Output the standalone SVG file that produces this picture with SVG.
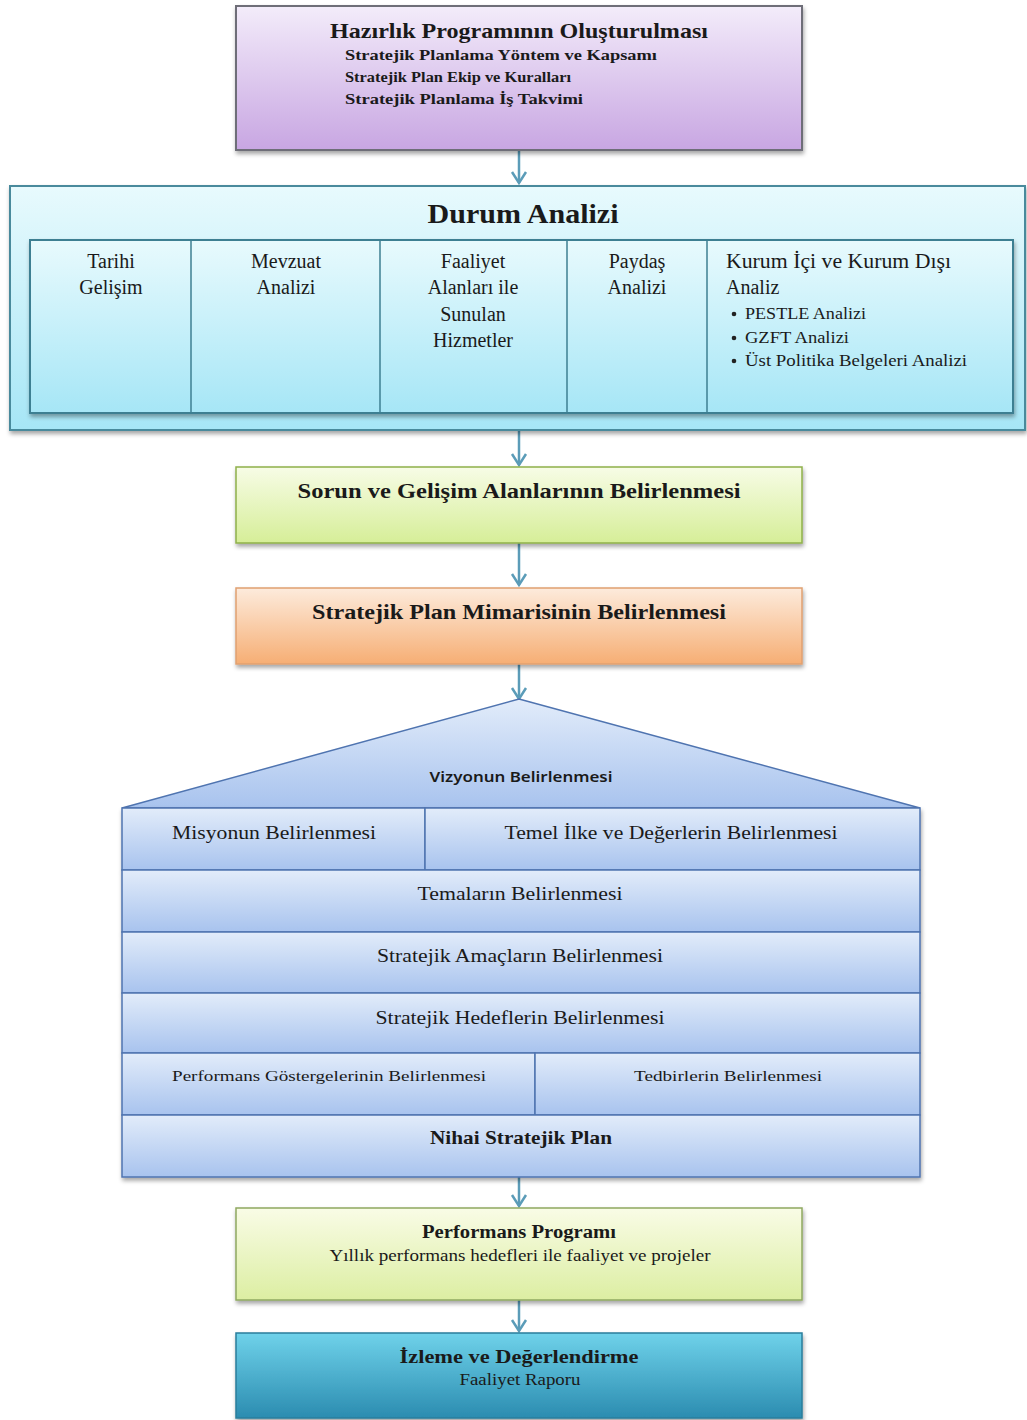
<svg xmlns="http://www.w3.org/2000/svg" width="1027" height="1420" viewBox="0 0 1027 1420">
<style>
.t{font-family:"Liberation Serif","DejaVu Serif",serif;fill:#1a1a1a;text-anchor:middle}
.st{text-anchor:start}
.b{font-weight:bold}
.s{font-family:"Noto Sans","Liberation Sans",sans-serif;fill:#1a1a1a;text-anchor:middle;font-weight:600}
.conn{stroke:#5B9CB8;stroke-width:2.5;fill:none}
.row{fill:url(#gBlue);stroke:#4F74B0;stroke-width:1.5}
.cell{fill:none;stroke:#3E7F92;stroke-width:1.5}
</style>
<defs>
<linearGradient id="gPurple" x1="0" y1="0" x2="0" y2="1"><stop offset="0" stop-color="#F3ECFA"/><stop offset="1" stop-color="#C8A6E2"/></linearGradient>
<linearGradient id="gCyan" x1="0" y1="0" x2="0" y2="1"><stop offset="0" stop-color="#E8FAFD"/><stop offset="1" stop-color="#A6E6F6"/></linearGradient>
<linearGradient id="gGreen" x1="0" y1="0" x2="0" y2="1"><stop offset="0" stop-color="#F7FCE6"/><stop offset="1" stop-color="#D6EE98"/></linearGradient>
<linearGradient id="gOrange" x1="0" y1="0" x2="0" y2="1"><stop offset="0" stop-color="#FDEBDC"/><stop offset="1" stop-color="#F6AE74"/></linearGradient>
<linearGradient id="gBlue" x1="0" y1="0" x2="0" y2="1"><stop offset="0" stop-color="#E2ECFA"/><stop offset="1" stop-color="#A8C3EE"/></linearGradient>
<linearGradient id="gPerf" x1="0" y1="0" x2="0" y2="1"><stop offset="0" stop-color="#F9FCE6"/><stop offset="1" stop-color="#DCEEA2"/></linearGradient>
<linearGradient id="gTeal" x1="0" y1="0" x2="0" y2="1"><stop offset="0" stop-color="#6FD2EA"/><stop offset="1" stop-color="#2B8CB0"/></linearGradient>
<filter id="sh" x="-5%" y="-5%" width="110%" height="115%"><feDropShadow dx="1" dy="3" stdDeviation="2" flood-color="#000" flood-opacity="0.35"/></filter>
</defs>

<g id="connectors">
<line class="conn" x1="519" y1="150" x2="519" y2="183"/>
<path class="conn" d="M512,172 L519,183 L526,172"/>
<line class="conn" x1="519" y1="430" x2="519" y2="465"/>
<path class="conn" d="M512,454 L519,465 L526,454"/>
<line class="conn" x1="519" y1="543" x2="519" y2="585"/>
<path class="conn" d="M512,574 L519,585 L526,574"/>
<line class="conn" x1="519" y1="664" x2="519" y2="699"/>
<path class="conn" d="M512,688 L519,699 L526,688"/>
<line class="conn" x1="519" y1="1177" x2="519" y2="1206"/>
<path class="conn" d="M512,1195 L519,1206 L526,1195"/>
<line class="conn" x1="519" y1="1300" x2="519" y2="1331"/>
<path class="conn" d="M512,1320 L519,1331 L526,1320"/>
</g>

<g id="hazirlik">
<rect x="236" y="6" width="566" height="144" fill="url(#gPurple)" stroke="#6E6E78" stroke-width="2" filter="url(#sh)"/>
<text class="t b" x="519" y="38" font-size="21" textLength="378" lengthAdjust="spacingAndGlyphs">Hazırlık Programının Oluşturulması</text>
<text class="t b st" x="345" y="60" font-size="14.5" textLength="312" lengthAdjust="spacingAndGlyphs">Stratejik Planlama Yöntem ve Kapsamı</text>
<text class="t b st" x="345" y="82" font-size="14.5" textLength="226" lengthAdjust="spacingAndGlyphs">Stratejik Plan Ekip ve Kuralları</text>
<text class="t b st" x="345" y="104" font-size="14.5" textLength="238" lengthAdjust="spacingAndGlyphs">Stratejik Planlama İş Takvimi</text>
</g>

<g id="durum">
<rect x="10" y="186" width="1015" height="244" fill="url(#gCyan)" stroke="#4A8A9C" stroke-width="2" filter="url(#sh)"/>
<text class="t b" x="523" y="223" font-size="27" textLength="191" lengthAdjust="spacingAndGlyphs">Durum Analizi</text>
<rect x="30" y="240" width="983" height="173" fill="url(#gCyan)" stroke="#3E7F92" stroke-width="2" filter="url(#sh)"/>
<line class="cell" x1="191" y1="240" x2="191" y2="413"/>
<line class="cell" x1="380" y1="240" x2="380" y2="413"/>
<line class="cell" x1="567" y1="240" x2="567" y2="413"/>
<line class="cell" x1="707" y1="240" x2="707" y2="413"/>
<g id="tarihi"><text class="t" x="111" y="268" font-size="20">Tarihi</text><text class="t" x="111" y="294" font-size="20">Gelişim</text></g>
<g id="mevzuat"><text class="t" x="286" y="268" font-size="20">Mevzuat</text><text class="t" x="286" y="294" font-size="20">Analizi</text></g>
<g id="faaliyet"><text class="t" x="473" y="268" font-size="20">Faaliyet</text><text class="t" x="473" y="294" font-size="20">Alanları ile</text><text class="t" x="473" y="321" font-size="20">Sunulan</text><text class="t" x="473" y="347" font-size="20">Hizmetler</text></g>
<g id="paydas"><text class="t" x="637" y="268" font-size="20">Paydaş</text><text class="t" x="637" y="294" font-size="20">Analizi</text></g>
<g id="kurum">
<text class="t st" x="726" y="268" font-size="20" textLength="225" lengthAdjust="spacingAndGlyphs">Kurum İçi ve Kurum Dışı</text>
<text class="t st" x="726" y="294" font-size="20">Analiz</text>
<circle cx="734" cy="314" r="2.3" fill="#222"/><text class="t st" x="745" y="319" font-size="16" textLength="121" lengthAdjust="spacingAndGlyphs">PESTLE Analizi</text>
<circle cx="734" cy="338" r="2.3" fill="#222"/><text class="t st" x="745" y="343" font-size="16" textLength="104" lengthAdjust="spacingAndGlyphs">GZFT Analizi</text>
<circle cx="734" cy="361" r="2.3" fill="#222"/><text class="t st" x="745" y="366" font-size="16" textLength="222" lengthAdjust="spacingAndGlyphs">Üst Politika Belgeleri Analizi</text>
</g>
</g>

<g id="sorun">
<rect x="236" y="467" width="566" height="76" fill="url(#gGreen)" stroke="#8FB04A" stroke-width="1.5" filter="url(#sh)"/>
<text class="t b" x="519" y="498" font-size="20.5" textLength="443" lengthAdjust="spacingAndGlyphs">Sorun ve Gelişim Alanlarının Belirlenmesi</text>
</g>

<g id="mimari">
<rect x="236" y="588" width="566" height="76" fill="url(#gOrange)" stroke="#E0A070" stroke-width="1.5" filter="url(#sh)"/>
<text class="t b" x="519" y="619" font-size="20.5" textLength="414" lengthAdjust="spacingAndGlyphs">Stratejik Plan Mimarisinin Belirlenmesi</text>
</g>

<g id="vizyon">
<polygon points="519,699 920,808 122,808" fill="url(#gBlue)" stroke="#4F74B0" stroke-width="1.5"/>
<text class="s" x="521" y="782" font-size="15" textLength="183" lengthAdjust="spacingAndGlyphs">Vizyonun Belirlenmesi</text>
</g>

<g id="rows" filter="url(#sh)">
<rect class="row" x="122" y="808" width="303" height="62"/>
<rect class="row" x="425" y="808" width="495" height="62"/>
<rect class="row" x="122" y="870" width="798" height="62"/>
<rect class="row" x="122" y="932" width="798" height="61"/>
<rect class="row" x="122" y="993" width="798" height="60"/>
<rect class="row" x="122" y="1053" width="413" height="62"/>
<rect class="row" x="535" y="1053" width="385" height="62"/>
<rect class="row" x="122" y="1115" width="798" height="62"/>
</g>
<g id="misyon"><text class="t" x="274" y="839" font-size="19" textLength="204" lengthAdjust="spacingAndGlyphs">Misyonun Belirlenmesi</text></g>
<g id="temel"><text class="t" x="671" y="839" font-size="19" textLength="333" lengthAdjust="spacingAndGlyphs">Temel İlke ve Değerlerin Belirlenmesi</text></g>
<g id="temalar"><text class="t" x="520" y="900" font-size="19" textLength="205" lengthAdjust="spacingAndGlyphs">Temaların Belirlenmesi</text></g>
<g id="amaclar"><text class="t" x="520" y="962" font-size="19" textLength="286" lengthAdjust="spacingAndGlyphs">Stratejik Amaçların Belirlenmesi</text></g>
<g id="hedefler"><text class="t" x="520" y="1024" font-size="19" textLength="289" lengthAdjust="spacingAndGlyphs">Stratejik Hedeflerin Belirlenmesi</text></g>
<g id="gostergeler"><text class="t" x="329" y="1081" font-size="15.5" textLength="314" lengthAdjust="spacingAndGlyphs">Performans Göstergelerinin Belirlenmesi</text></g>
<g id="tedbirler"><text class="t" x="728" y="1081" font-size="15.5" textLength="188" lengthAdjust="spacingAndGlyphs">Tedbirlerin Belirlenmesi</text></g>
<g id="nihai"><text class="t b" x="521" y="1144" font-size="19" textLength="182" lengthAdjust="spacingAndGlyphs">Nihai Stratejik Plan</text></g>

<g id="performans">
<rect x="236" y="1208" width="566" height="92" fill="url(#gPerf)" stroke="#8FA860" stroke-width="1.5" filter="url(#sh)"/>
<text class="t b" x="519" y="1238" font-size="18" textLength="194" lengthAdjust="spacingAndGlyphs">Performans Programı</text>
<text class="t" x="520" y="1261" font-size="16.5" textLength="381" lengthAdjust="spacingAndGlyphs">Yıllık performans hedefleri ile faaliyet ve projeler</text>
</g>

<g id="izleme">
<rect x="236" y="1333" width="566" height="85" fill="url(#gTeal)" stroke="#2A7E9C" stroke-width="1.5" filter="url(#sh)"/>
<text class="t b" x="519" y="1363" font-size="18.5" textLength="239" lengthAdjust="spacingAndGlyphs">İzleme ve Değerlendirme</text>
<text class="t" x="520" y="1385" font-size="16" textLength="121" lengthAdjust="spacingAndGlyphs">Faaliyet Raporu</text>
</g>
</svg>
